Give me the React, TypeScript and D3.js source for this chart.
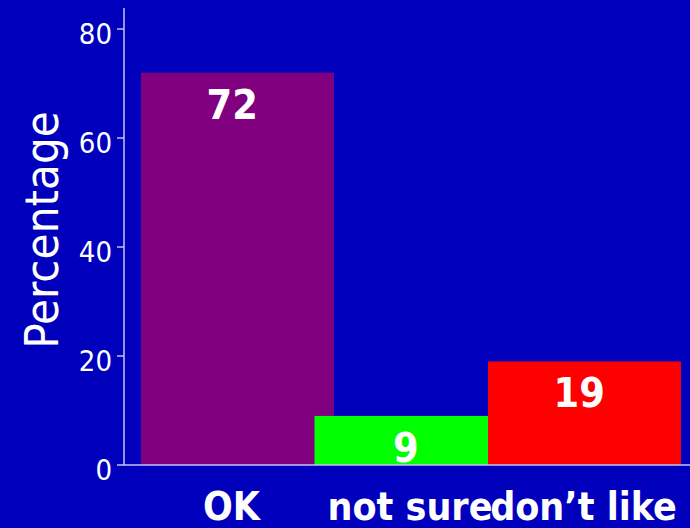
import * as d3 from 'd3';

const categories = ['OK', 'not sure', 'don\u2019t like'];
const percentages = [72, 9, 19];
const barColors = ['#800080', '#00ff00', '#ff0000'];
const yTicks = [0, 20, 40, 60, 80];

const W = 690;
const H = 528;
const FONT = "'DejaVu Sans Condensed', 'DejaVu Sans', sans-serif";

const App = () => {
  // axes box
  const axisX = 124;
  const baseY = 465;

  const y = d3.scaleLinear().domain([0, 80]).range([baseY, 29]);
  const x = d3.scaleBand().domain(categories).range([141, 661.5]).padding(0);
  const barW = x.bandwidth() * 1.112; // bars are wider than their band and overlap

  const axisColor = '#c4c4f4';

  return (
    <svg width={W} height={H} style={{ position: 'fixed', left: 0, top: 0, display: 'block' }}>
      <rect x={0} y={0} width={W} height={H} fill="#0000bc" />

      {/* bars */}
      {categories.map((c, i) => (
        <rect key={c} x={x(c)} y={y(percentages[i])} width={barW}
          height={baseY - y(percentages[i])} fill={barColors[i]} />
      ))}

      {/* value labels */}
      {categories.map((c, i) => (
        <text key={c} x={(x(c) ?? 0) + x.bandwidth() / 2 + 4.5} y={y(percentages[i]) + 46}
          textAnchor="middle" fill="#fff" fontFamily={FONT} fontWeight="bold" fontSize={41}>
          {percentages[i]}
        </text>
      ))}

      {/* y axis */}
      <line x1={axisX} x2={axisX} y1={8} y2={baseY} stroke={axisColor} strokeWidth={1.5} />
      {yTicks.map(t => (
        <g key={t}>
          <line x1={axisX - 7} x2={axisX} y1={y(t)} y2={y(t)} stroke={axisColor} strokeWidth={1.5} />
          <text x={112} y={y(t) + 15} textAnchor="end" fill="#fff" fontFamily={FONT} fontSize={29}>
            {t}
          </text>
        </g>
      ))}

      {/* x axis */}
      <line x1={axisX} x2={W} y1={baseY} y2={baseY} stroke={axisColor} strokeWidth={1.5} />
      {categories.map((c, i) => (
        <text key={c} x={(x(c) ?? 0) + barW / 2 + (i === 0 ? -6 : -1)} y={520} textAnchor="middle" fill="#fff"
          fontFamily={FONT} fontWeight="bold" fontSize={39}>
          {c}
        </text>
      ))}

      <text transform={`translate(58,230) rotate(-90)`} textAnchor="middle" fill="#fff"
        fontFamily={FONT} fontSize={47}>
        Percentage
      </text>
    </svg>
  );
};

export default App;
